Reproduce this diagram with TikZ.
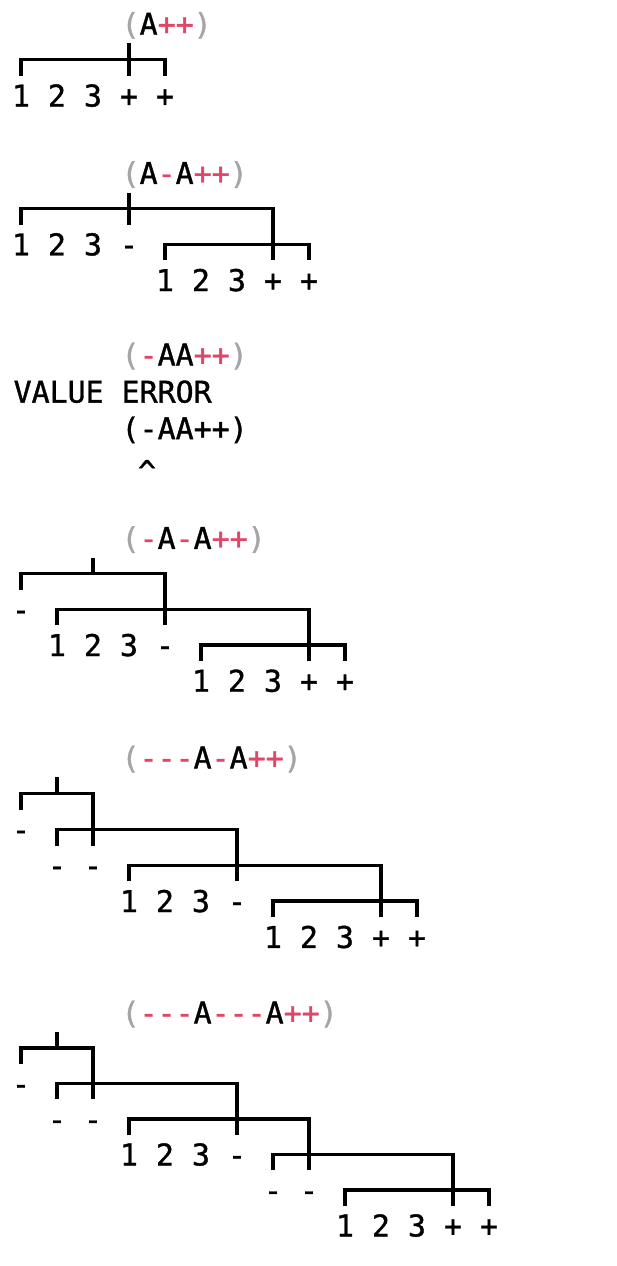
\documentclass[tikz,border=0pt]{standalone}
\usepackage{fontspec}
\setmonofont{DejaVu Sans Mono}[FakeBold=1.2]
\usetikzlibrary{positioning}
\definecolor{pargray}{RGB}{165,165,165}
\definecolor{oppink}{RGB}{225,70,105}
\newcommand{\mypar}[1]{\textcolor{pargray}{#1}}
\newcommand{\myop}[1]{\textcolor{oppink}{#1}}
\tikzstyle{chr} = [inner sep=0pt, minimum height=36pt, text height=21.8pt, text depth=0pt, font=\ttfamily\fontsize{29.9}{36}\selectfont]
\tikzstyle{expr} = [chr, anchor=west]

\begin{document}
\begin{tikzpicture}[x=1pt, y=-1pt, node distance=36pt, line width=3.3pt]
        \useasboundingbox (0,0) rectangle (616,1266);

        \node [expr] (p1) at (120,23.8) {\mypar{(}A\myop{++}\mypar{)}};
        \node [coordinate, below of=p1, node distance=35.9pt] (t1) {};
        \node [chr] (a1) at (21,95.6) {1};
        \node [chr, right of=a1] (a2) {2};
        \node [chr, right of=a2] (a3) {3};
        \node [chr, right of=a3] (a4) {+};
        \node [chr, right of=a4] (a5) {+};
        \draw (a1.north) |- (a5.north |- t1) -- (a5.north);
        \draw (a4.north |- p1.south) -- (a4.north);

        \node [expr] (p2) at (120,173) {\mypar{(}A\myop{-}A\myop{++}\mypar{)}};
        \node [coordinate, below of=p2, node distance=35.7pt] (t2) {};
        \node [chr] (b1) at (21,244.4) {1};
        \node [chr, right of=b1] (b2) {2};
        \node [chr, right of=b2] (b3) {3};
        \node [chr, right of=b3] (b4) {-};
        \node [chr] (c1) at (165,280.1) {1};
        \node [chr, right of=c1] (c2) {2};
        \node [chr, right of=c2] (c3) {3};
        \node [chr, right of=c3] (c4) {+};
        \node [chr, right of=c4] (c5) {+};
        \draw (b1.north) |- (c4.north |- t2) -- (c4.north);
        \draw (b4.north |- p2.south) -- (b4.north);
        \draw (c1.north) |- (c5.north |- b4) -- (c5.north);

        \node [expr] (p3) at (120,354.5) {\mypar{(}\myop{-}AA\myop{++}\mypar{)}};
        \node [expr] (verr) at (12,391.7) {VALUE ERROR};
        \node [expr] (vexp) at (120,428.3) {(-AA++)};
        \node [chr] (vhat) at (147,471) {\textasciicircum};

        \node [expr] (p4) at (120,538) {\mypar{(}\myop{-}A\myop{-}A\myop{++}\mypar{)}};
        \node [coordinate, below of=p4, node distance=35.7pt] (t4) {};
        \node [chr] (d1) at (21,609.4) {-};
        \node [chr] (e1) at (57,645.1) {1};
        \node [chr, right of=e1] (e2) {2};
        \node [chr, right of=e2] (e3) {3};
        \node [chr, right of=e3] (e4) {-};
        \node [chr] (f1) at (201,680.8) {1};
        \node [chr, right of=f1] (f2) {2};
        \node [chr, right of=f2] (f3) {3};
        \node [chr, right of=f3] (f4) {+};
        \node [chr, right of=f4] (f5) {+};
        \draw (e2.north |- p4.south) -- (e2.north |- t4);
        \draw (d1.north) |- (e4.north |- t4) -- (e4.north);
        \draw (e1.north) |- (f4.north |- d1) -- (f4.north);
        \draw (f1.north) |- (f5.north |- e4) -- (f5.north);

        \node [expr] (p5) at (120,757.5) {\mypar{(}\myop{---}A\myop{-}A\myop{++}\mypar{)}};
        \node [coordinate, below of=p5, node distance=35.9pt] (t5) {};
        \node [chr] (g1) at (21,829.3) {-};
        \node [chr] (h1) at (57,865.2) {-};
        \node [chr, right of=h1] (h2) {-};
        \node [chr] (i1) at (129,901.1) {1};
        \node [chr, right of=i1] (i2) {2};
        \node [chr, right of=i2] (i3) {3};
        \node [chr, right of=i3] (i4) {-};
        \node [chr] (j1) at (273,937) {1};
        \node [chr, right of=j1] (j2) {2};
        \node [chr, right of=j2] (j3) {3};
        \node [chr, right of=j3] (j4) {+};
        \node [chr, right of=j4] (j5) {+};
        \draw (h1.north |- p5.south) -- (h1.north |- t5);
        \draw (g1.north) |- (h2.north |- t5) -- (h2.north);
        \draw (h1.north) |- (i4.north |- g1) -- (i4.north);
        \draw (i1.north) |- (j4.north |- h1) -- (j4.north);
        \draw (j1.north) |- (j5.north |- i1) -- (j5.north);

        \node [expr] (p6) at (120,1012.5) {\mypar{(}\myop{---}A\myop{---}A\myop{++}\mypar{)}};
        \node [coordinate, below of=p6, node distance=35.5pt] (t6) {};
        \node [chr] (k1) at (21,1083.5) {-};
        \node [chr] (l1) at (57,1119) {-};
        \node [chr, right of=l1] (l2) {-};
        \node [chr] (m1) at (129,1154.5) {1};
        \node [chr, right of=m1] (m2) {2};
        \node [chr, right of=m2] (m3) {3};
        \node [chr, right of=m3] (m4) {-};
        \node [chr] (n1) at (273,1190) {-};
        \node [chr, right of=n1] (n2) {-};
        \node [chr] (o1) at (345,1225.5) {1};
        \node [chr, right of=o1] (o2) {2};
        \node [chr, right of=o2] (o3) {3};
        \node [chr, right of=o3] (o4) {+};
        \node [chr, right of=o4] (o5) {+};
        \draw (l1.north |- p6.south) -- (l1.north |- t6);
        \draw (k1.north) |- (l2.north |- t6) -- (l2.north);
        \draw (l1.north) |- (m4.north |- k1) -- (m4.north);
        \draw (m1.north) |- (n2.north |- l1) -- (n2.north);
        \draw (n1.north) |- (o4.north |- m1) -- (o4.north);
        \draw (o1.north) |- (o5.north |- n1) -- (o5.north);
\end{tikzpicture}
\end{document}
